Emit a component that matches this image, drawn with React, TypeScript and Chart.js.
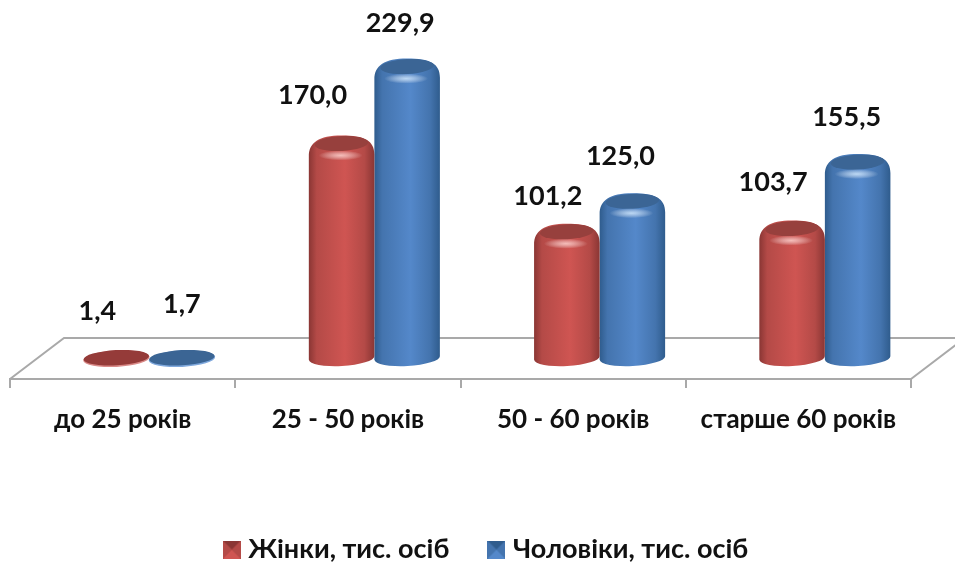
import React, { useEffect, useRef } from "react";
import { Chart, registerables } from "chart.js";

Chart.register(...registerables);

const categories = ["до 25 років", "25 - 50 років", "50 - 60 років", "старше 60 років"];
const women = [1.4, 170.0, 101.2, 103.7];
const men = [1.7, 229.9, 125.0, 155.5];
const seriesNames = ["Жінки, тис. осіб", "Чоловіки, тис. осіб"];

const FONT = "Lato, 'Open Sans', sans-serif";
const DEPTH_X = 26.5;
const DEPTH_Y = -21;
const CAP_SINK = 8.5;
const TILT = -0.055;
const LEGEND_PAD = 44;
const LEGEND_CENTER_Y = 550;
const LEGEND_SHIFT_X = 28;

type Palette = { edge: string; mid: string; light: string; cap: string; flat: string; rim: string; glow: string };
const palettes: Palette[] = [
  { edge: "#8a3634", mid: "#b44a47", light: "#cf5552", cap: "#97403d", flat: "#953b39", rim: "#d98a88", glow: "rgba(255,214,210,0.8)" },
  { edge: "#2f5c8d", mid: "#4474ae", light: "#5488ca", cap: "#3b6595", flat: "#3b6594", rim: "#7fa8dc", glow: "rgba(214,236,255,0.8)" },
];

// Hand-read label nudges from the top of each cylinder
const labelNudgeX = [
  [-19, -29, -19, -19],
  [0, -7, -12, -11],
];
const labelNudgeY = [
  [-53.7, -53, -40, -51],
  [-60, -48, -50, -50],
];

function swatch(p: Palette) {
  const c = document.createElement("canvas");
  c.width = 18;
  c.height = 18;
  const g = c.getContext("2d")!;
  g.fillStyle = p.edge;
  g.fillRect(0, 0, 18, 18);
  const tri = (pts: number[][], col: string) => {
    g.fillStyle = col;
    g.beginPath();
    pts.forEach((q, i) => (i ? g.lineTo(q[0], q[1]) : g.moveTo(q[0], q[1])));
    g.closePath();
    g.fill();
  };
  tri([[0, 0], [18, 0], [9, 9]], p.edge);
  tri([[0, 0], [0, 18], [9, 9]], p.mid);
  tri([[18, 0], [18, 18], [9, 9]], p.mid);
  tri([[0, 18], [18, 18], [9, 9]], p.light);
  return c;
}

function drawCylinder(ctx: CanvasRenderingContext2D, cx: number, topY: number, baseY: number, w: number, p: Palette) {
  const rx = w / 2;
  const h = baseY - topY;
  if (h < 12) {
    ctx.save();
    ctx.translate(cx, baseY);
    ctx.rotate(TILT);
    ctx.fillStyle = p.rim;
    ctx.beginPath();
    ctx.ellipse(0, 0.7, rx + 0.5, 8.2, 0, 0, Math.PI * 2);
    ctx.fill();
    ctx.fillStyle = p.flat;
    ctx.beginPath();
    ctx.ellipse(0, -0.3, rx, 7.6, 0, 0, Math.PI * 2);
    ctx.fill();
    ctx.restore();
    return;
  }
  const grad = ctx.createLinearGradient(cx - rx, 0, cx + rx, 0);
  grad.addColorStop(0, p.edge);
  grad.addColorStop(0.12, p.mid);
  grad.addColorStop(0.55, p.light);
  grad.addColorStop(0.85, p.mid);
  grad.addColorStop(1, p.edge);

  ctx.save();
  ctx.beginPath();
  ctx.moveTo(cx - rx, baseY + 2);
  ctx.ellipse(cx, baseY, rx, 8, TILT, Math.PI, 0, true);
  ctx.lineTo(cx + rx, topY + 6);
  ctx.bezierCurveTo(cx + rx, topY - 8, cx + rx - 10, topY - 13, cx, topY - 13);
  ctx.bezierCurveTo(cx - rx + 10, topY - 13, cx - rx, topY - 6, cx - rx, topY + 8);
  ctx.closePath();
  ctx.fillStyle = grad;
  ctx.fill();
  ctx.clip();

  // dark elliptic top face
  ctx.fillStyle = p.cap;
  ctx.beginPath();
  ctx.ellipse(cx, topY - 5, rx * 0.82, 7.5, TILT, 0, Math.PI * 2);
  ctx.fill();
  // soft highlight under the top face
  const hl = ctx.createRadialGradient(0, 0, 0, 0, 0, 1);
  hl.addColorStop(0, p.glow);
  hl.addColorStop(1, "rgba(255,255,255,0)");
  ctx.translate(cx - 1, topY + 7);
  ctx.scale(22, 5);
  ctx.fillStyle = hl;
  ctx.beginPath();
  ctx.arc(0, 0, 1, 0, Math.PI * 2);
  ctx.fill();
  ctx.restore();
}

const cylinders = {
  id: "cylinders",
  afterLayout(chart: any) {
    const lg = chart.legend;
    lg.top = LEGEND_CENTER_Y - LEGEND_PAD - 14;
    lg.left += LEGEND_SHIFT_X;
    lg.right += LEGEND_SHIFT_X;
  },
  beforeDatasetsDraw(chart: any) {
    const { ctx, chartArea } = chart;
    const { left, right, bottom } = chartArea;
    const backY = bottom - 41;
    ctx.save();
    ctx.strokeStyle = "#a9a9a9";
    ctx.lineWidth = 2;
    ctx.beginPath();
    ctx.moveTo(left, bottom);
    ctx.lineTo(left + 54, backY);
    ctx.lineTo(right + 54, backY);
    ctx.lineTo(right, bottom);
    ctx.stroke();
    ctx.restore();
  },
  beforeDatasetDraw(chart: any, args: any) {
    const { ctx } = chart;
    const p = palettes[args.index];
    args.meta.data.forEach((bar: any) => {
      drawCylinder(ctx, bar.x + DEPTH_X, bar.y + DEPTH_Y + CAP_SINK, bar.base + DEPTH_Y, bar.width, p);
    });
    return false;
  },
  afterDatasetsDraw(chart: any) {
    const { ctx } = chart;
    ctx.save();
    ctx.fillStyle = "#111";
    ctx.font = `bold 27px ${FONT}`;
    ctx.textAlign = "center";
    ctx.textBaseline = "middle";
    chart.data.datasets.forEach((ds: any, d: number) => {
      chart.getDatasetMeta(d).data.forEach((bar: any, i: number) => {
        const text = ds.data[i].toFixed(1).replace(".", ",");
        ctx.fillText(text, bar.x + DEPTH_X + labelNudgeX[d][i], bar.y + DEPTH_Y + CAP_SINK + labelNudgeY[d][i]);
      });
    });
    ctx.restore();
  },
};

export default function App() {
  const ref = useRef<HTMLCanvasElement>(null);
  useEffect(() => {
    document.body.style.margin = "0";
    const swatches = palettes.map(swatch);
    const chart = new Chart(ref.current!, {
      type: "bar",
      data: {
        labels: categories,
        datasets: [
          { label: seriesNames[0], data: women, backgroundColor: palettes[0].light },
          { label: seriesNames[1], data: men, backgroundColor: palettes[1].light },
        ],
      },
      options: {
        responsive: false,
        animation: false,
        devicePixelRatio: 1,
        categoryPercentage: 0.582,
        barPercentage: 1,
        layout: { padding: { top: 7, left: 10, right: 44, bottom: 0 } },
        scales: {
          y: { display: false, min: 0, max: 290 },
          x: {
            afterFit(scale: any) {
              scale.height = 104;
            },
            border: { color: "#a9a9a9", width: 2 },
            grid: { drawOnChartArea: false, color: "#a9a9a9", lineWidth: 2, tickLength: 9, offset: true },
            ticks: {
              color: "#111",
              padding: 16,
              maxRotation: 0,
              font: { family: FONT, weight: "bold", size: 26 },
            },
          },
        },
        plugins: {
          tooltip: { enabled: false },
          legend: {
            position: "bottom",
            labels: {
              color: "#111",
              usePointStyle: true,
              pointStyleWidth: 6,
              padding: LEGEND_PAD,
              font: { family: FONT, weight: "bold", size: 27 },
              generateLabels(c: any) {
                return c.data.datasets.map((ds: any, i: number) => ({
                  text: ds.label,
                  datasetIndex: i,
                  pointStyle: swatches[i],
                  fontColor: "#111",
                  lineWidth: 0,
                  strokeStyle: "transparent",
                  fillStyle: ds.backgroundColor,
                }));
              },
            },
          },
        },
      },
      plugins: [cylinders],
    } as any);
    return () => chart.destroy();
  }, []);
  return <canvas ref={ref} width={955} height={564} style={{ display: "block" }} />;
}
